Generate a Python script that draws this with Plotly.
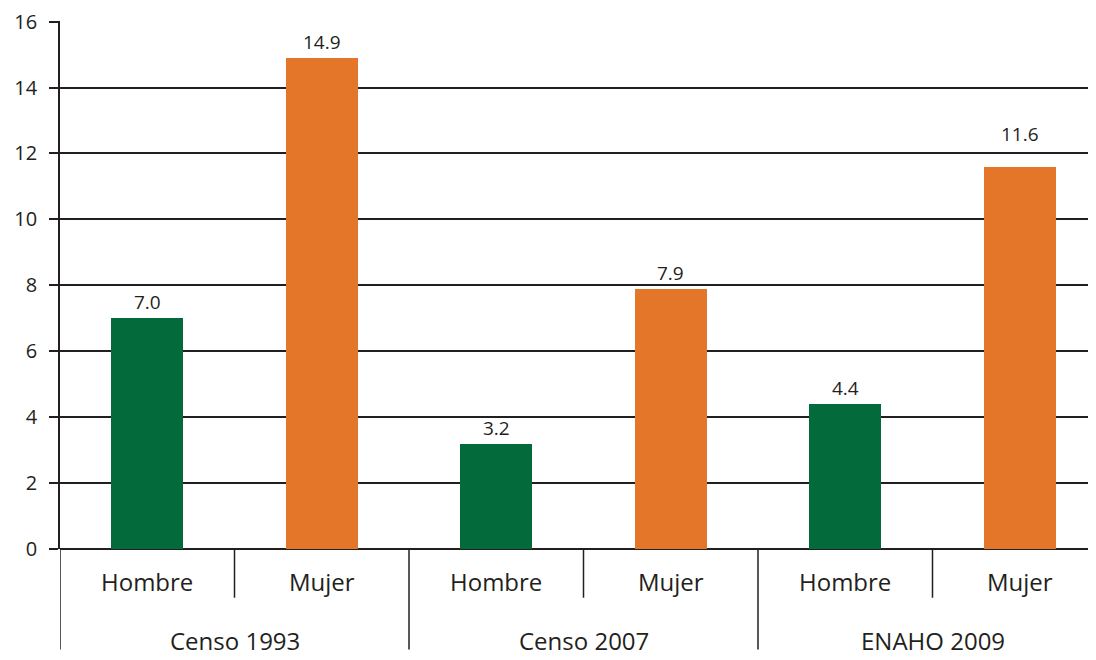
import plotly.graph_objects as go

groups = ["Censo 1993", "Censo 2007", "ENAHO 2009"]
sexes = ["Hombre", "Mujer"]
hombre = [7.0, 3.2, 4.4]
mujer = [14.9, 7.9, 11.6]
y_ticks = [0, 2, 4, 6, 8, 10, 12, 14, 16]

GREEN = "#036B3B"
ORANGE = "#E37628"
INK = "#231F20"
FONT = "Open Sans"

n_groups = len(groups)
n_sex = len(sexes)
x_h = [g * n_sex + 0 for g in range(n_groups)]
x_m = [g * n_sex + 1 for g in range(n_groups)]

# the reference lifts the ENAHO 2009 / Mujer label above the 12 gridline
label_lift = {(5, 11.6): 17}

fig = go.Figure()
annotations = []
for xs, ys, col in [(x_h, hombre, GREEN), (x_m, mujer, ORANGE)]:
    fig.add_trace(go.Bar(
        x=xs, y=ys, width=0.41, marker=dict(color=col, line=dict(width=0)),
        showlegend=False, hoverinfo="y",
    ))
    for xv, yv in zip(xs, ys):
        annotations.append(dict(
            x=xv, y=yv, xref="x", yref="y", text=f"{yv:.1f}", showarrow=False,
            yanchor="bottom", xanchor="center", yshift=1 + label_lift.get((xv, yv), 0),
            font=dict(family=FONT, size=19, color=INK)))

# page has an 8px body margin; compensate so the plot sits where the reference has it
OFF = 8
W, H = 1096 - OFF, 660 - OFF
ml, mt = 60 - OFF, 18 - OFF
plot_bottom = 549 - OFF
mb = H - plot_bottom
plot_h = plot_bottom - mt
cat_px = 174.5
x_end = -0.5 + (W - ml) / cat_px

shapes = []
short_y = -(598 - 549) / plot_h
long_y = -(650 - 549) / plot_h
shapes.append(dict(type="line", xref="x", yref="paper", x0=-0.5, x1=-0.5,
                   y0=0, y1=long_y, line=dict(color=INK, width=1.5)))
for g in range(n_groups):
    inner = g * n_sex + 0.5
    shapes.append(dict(type="line", xref="x", yref="paper", x0=inner, x1=inner,
                       y0=0, y1=short_y, line=dict(color=INK, width=1.5)))
    if g < n_groups - 1:
        b = g * n_sex + 1.5
        shapes.append(dict(type="line", xref="x", yref="paper", x0=b, x1=b,
                           y0=0, y1=long_y, line=dict(color=INK, width=1.5)))

for g, name in enumerate(groups):
    annotations.append(dict(
        x=g * n_sex + 0.5, xref="x", y=-(641 - 549) / plot_h, yref="paper",
        text=name, showarrow=False, yanchor="middle", xanchor="center",
        font=dict(family=FONT, size=24, color=INK)))
for g in range(n_groups):
    for s, sx in enumerate(sexes):
        annotations.append(dict(
            x=g * n_sex + s, xref="x", y=-(582 - 549) / plot_h, yref="paper",
            text=sx, showarrow=False, yanchor="middle", xanchor="center",
            font=dict(family=FONT, size=24, color=INK)))

fig.update_layout(
    width=W, height=H,
    margin=dict(l=ml, r=0, t=mt, b=mb, pad=0),
    paper_bgcolor="white", plot_bgcolor="white",
    font=dict(family=FONT, color=INK),
    shapes=shapes, annotations=annotations,
    xaxis=dict(range=[-0.5, x_end], showticklabels=False, showgrid=False,
               zeroline=False, showline=False, ticks="", fixedrange=True),
    yaxis=dict(range=[0, 16.02], tickvals=y_ticks, ticktext=[str(v) for v in y_ticks],
               showgrid=True, gridcolor=INK, gridwidth=1.8,
               zeroline=True, zerolinecolor=INK, zerolinewidth=1.8,
               showline=True, linecolor=INK, linewidth=1.8,
               ticks="outside", ticklen=9, tickcolor=INK, tickwidth=1.8,
               ticklabelstandoff=8, ticklabeloverflow="allow",
               tickfont=dict(family=FONT, size=20, color=INK)),
    bargap=0,
)

fig.write_html("out.html")
